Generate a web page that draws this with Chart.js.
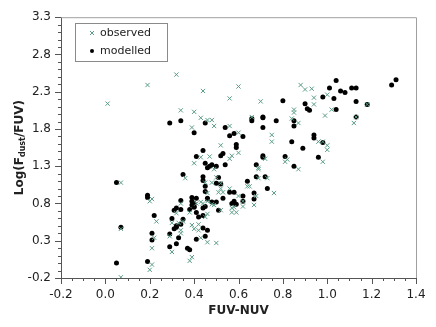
<!DOCTYPE html>
<html>
<head>
<meta charset="utf-8">
<script src="https://cdn.jsdelivr.net/npm/chart.js@4"></script>
<style>
  html, body { margin: 0; padding: 0; background: #fff; }
  #wrap { width: 436px; height: 327px; }
</style>
</head>
<body>
<div id="wrap"><canvas id="chart" width="436" height="327"></canvas></div>
<script>
// axis ticks
const xTicks = [-0.2, 0.0, 0.2, 0.4, 0.6, 0.8, 1.0, 1.2, 1.4];
const yTicks = [-0.2, 0.3, 0.8, 1.3, 1.8, 2.3, 2.8, 3.3];

const seriesNames = ['observed', 'modelled'];

// observed (green crosses)
const obsX = [0.01, 0.07, 0.07, 0.07, 0.19, 0.32, 0.44, 0.60, 0.56, 0.34, 0.40, 0.43, 0.46, 0.48, 0.49, 0.39, 0.56, 0.60,
  0.52, 0.60, 0.57, 0.56, 0.47, 0.43, 0.40, 0.49, 0.50, 0.36, 0.45, 0.48, 0.52, 0.52, 0.53, 0.51, 0.65, 0.46, 0.60, 0.62,
  0.21, 0.20, 0.41, 0.44, 0.43, 0.46, 0.34, 0.48, 0.49, 0.62, 0.57, 0.57, 0.59, 0.32, 0.38, 0.46, 0.45, 0.52, 0.23, 0.42,
  0.39, 0.35, 0.33, 0.30, 0.42, 0.40, 0.34, 0.34, 0.29, 0.22, 0.43, 0.46, 0.50, 0.21, 0.30, 0.39, 0.38, 0.21, 0.20,
  0.75, 0.75, 0.96, 0.98, 1.00, 1.00, 0.72, 0.82, 0.81, 0.98, 0.87, 0.69, 0.69, 0.69, 0.73, 0.64, 0.76, 0.68, 0.67,
  0.88, 0.90, 0.93, 1.00, 0.94, 0.94, 0.70, 0.85, 0.85, 0.84, 0.87, 0.99, 1.02, 1.18, 1.13, 1.12, 0.66, 0.56, 0.58];
const obsY = [2.14, -0.19, 0.46, 1.08, 2.39, 2.53, 2.31, 2.37, 2.21, 2.05, 2.03, 1.95, 1.92, 1.92, 1.84, 1.82, 1.84, 1.75,
  1.58, 1.48, 1.44, 1.40, 1.43, 1.42, 1.34, 1.26, 1.15, 1.14, 1.08, 1.08, 1.07, 1.00, 0.95, 0.95, 1.03, 0.94, 0.90, 0.83,
  0.86, 0.83, 0.80, 0.80, 0.82, 0.83, 0.80, 0.79, 0.78, 0.76, 0.74, 0.68, 0.68, 0.67, 0.68, 0.66, 0.62, 0.71, 0.56, 0.52,
  0.51, 0.56, 0.54, 0.54, 0.44, 0.46, 0.44, 0.40, 0.36, 0.34, 0.34, 0.28, 0.27, 0.20, 0.15, 0.08, 0.03, -0.02, -0.09,
  1.72, 1.63, 1.63, 1.63, 1.58, 1.52, 1.40, 1.39, 1.36, 1.36, 1.26, 1.28, 1.26, 1.14, 1.14, 1.03, 0.94, 0.90, 0.78,
  2.39, 2.33, 2.34, 2.26, 2.22, 2.13, 2.17, 2.06, 2.02, 1.94, 1.88, 1.98, 2.06, 2.13, 1.96, 1.88, 1.96, 1.00, 0.75];

// modelled (black dots)
const modX = [0.05, 0.05, 0.40, 0.56, 0.58, 0.62, 0.59, 0.59, 0.44, 0.53, 0.52, 0.41, 0.45, 0.54, 0.48, 0.47, 0.46, 0.50,
  0.35, 0.44, 0.51, 0.44, 0.64, 0.50, 0.52, 0.45, 0.45, 0.56, 0.58, 0.62, 0.19, 0.19, 0.39, 0.41, 0.46, 0.46, 0.39, 0.40,
  0.39, 0.40, 0.38, 0.40, 0.34, 0.48, 0.50, 0.53, 0.45, 0.44, 0.58, 0.57, 0.59, 0.62, 0.32, 0.31, 0.34, 0.51, 0.41, 0.22,
  0.44, 0.42, 0.30, 0.35, 0.34, 0.32, 0.32, 0.31, 0.07, 0.44, 0.46, 0.21, 0.29, 0.45, 0.33, 0.41, 0.21, 0.32, 0.29, 0.37,
  0.38, 0.19, 0.29, 0.34, 0.45, 0.54, 0.84, 0.94, 0.94, 0.98, 0.89, 0.71, 0.71, 0.81, 0.68, 0.96, 0.85, 0.68, 0.72, 0.73,
  0.67, 0.67, 1.31, 1.29, 1.04, 1.01, 1.11, 1.13, 1.06, 1.08, 0.98, 1.03, 0.80, 0.90, 1.13, 1.18, 0.91, 0.92, 1.04, 0.66,
  0.66, 0.71, 0.71, 0.77, 0.85, 0.85, 1.13, 0.71];
const modY = [1.08, 0.00, 1.75, 1.71, 1.74, 1.70, 1.59, 1.55, 1.51, 1.47, 1.44, 1.43, 1.34, 1.32, 1.32, 1.30, 1.28, 1.30,
  1.19, 1.16, 1.15, 1.11, 1.10, 1.07, 1.06, 1.03, 0.96, 0.95, 0.95, 0.90, 0.91, 0.88, 0.88, 0.87, 0.87, 0.86, 0.83, 0.80,
  0.78, 0.75, 0.72, 0.76, 0.84, 0.82, 0.82, 0.87, 0.76, 0.74, 0.83, 0.80, 0.79, 0.83, 0.74, 0.71, 0.72, 0.71, 0.68, 0.64,
  0.64, 0.62, 0.60, 0.59, 0.52, 0.50, 0.48, 0.46, 0.48, 0.47, 0.44, 0.40, 0.39, 0.36, 0.34, 0.32, 0.31, 0.26, 0.22, 0.20,
  0.18, 0.02, 1.88, 1.91, 1.88, 1.82, 1.63, 1.72, 1.68, 1.62, 1.54, 1.44, 1.42, 1.43, 1.32, 1.42, 1.30, 1.16, 1.16, 1.00,
  0.94, 0.86, 2.46, 2.39, 2.45, 2.35, 2.35, 2.35, 2.31, 2.29, 2.23, 2.21, 2.18, 2.14, 2.17, 2.13, 2.07, 2.05, 2.06, 1.94,
  1.91, 1.96, 1.95, 1.91, 1.91, 1.84, 1.96, 1.82];

const FONT = "'DejaVu Sans', Verdana, sans-serif";
const GREEN = '#5a9c88';
const TEXT = '#222';

const toPoints = (xs, ys) => xs.map((x, i) => ({ x: x, y: ys[i] }));

// frame, minor ticks, axis titles and the boxed legend
const decorations = {
  id: 'decorations',
  afterDraw(chart) {
    const ctx = chart.ctx;
    const a = chart.chartArea;
    const xs = chart.scales.x;
    const ys = chart.scales.y;
    ctx.save();

    // light frame round the plot, darker axes
    ctx.strokeStyle = '#a0a0a0';
    ctx.lineWidth = 1;
    ctx.beginPath();
    ctx.moveTo(a.left, a.top + 0.5);
    ctx.lineTo(a.right + 0.5, a.top + 0.5);
    ctx.lineTo(a.right + 0.5, a.bottom);
    ctx.stroke();

    ctx.strokeStyle = '#555';
    ctx.beginPath();
    // y ticks every 0.1
    for (let i = 0; i <= 35; i++) {
      const v = -0.2 + i * 0.1;
      const py = Math.round(ys.getPixelForValue(v)) + 0.5;
      const len = i % 5 === 0 ? 6 : 3;
      ctx.moveTo(a.left - len, py);
      ctx.lineTo(a.left, py);
    }
    // x ticks every 0.05
    for (let i = 0; i <= 32; i++) {
      const v = -0.2 + i * 0.05;
      const px = Math.round(xs.getPixelForValue(v)) + 0.5;
      const len = i % 4 === 0 ? 6 : 3;
      ctx.moveTo(px, a.bottom);
      ctx.lineTo(px, a.bottom + len);
    }
    ctx.stroke();

    // x title
    ctx.fillStyle = TEXT;
    ctx.font = 'bold 12px ' + FONT;
    ctx.textAlign = 'center';
    ctx.textBaseline = 'middle';
    ctx.fillText('FUV-NUV', (a.left + a.right) / 2, 311);

    // y title with subscript
    const parts = [
      { t: 'Log(F', f: 'bold 12px ' + FONT, dy: 0 },
      { t: 'dust', f: 'bold 8px ' + FONT, dy: 3 },
      { t: '/FUV)', f: 'bold 12px ' + FONT, dy: 0 }
    ];
    let total = 0;
    parts.forEach(p => { ctx.font = p.f; p.w = ctx.measureText(p.t).width; total += p.w; });
    ctx.translate(20, (a.top + a.bottom) / 2);
    ctx.rotate(-Math.PI / 2);
    ctx.textAlign = 'left';
    let cx = -total / 2;
    parts.forEach(p => {
      ctx.font = p.f;
      ctx.fillText(p.t, cx, p.dy);
      cx += p.w;
    });
    ctx.setTransform(1, 0, 0, 1, 0, 0);

    // legend box
    ctx.fillStyle = '#fff';
    ctx.fillRect(75, 23, 92, 38);
    ctx.strokeStyle = '#8a8a8a';
    ctx.strokeRect(75.5, 23.5, 92, 38);
    const rows = [33, 51];
    chart.data.datasets.forEach((ds, i) => {
      const y = rows[i];
      const x = 92;
      if (ds.pointStyle === 'crossRot') {
        ctx.strokeStyle = ds.borderColor;
        ctx.lineWidth = ds.borderWidth;
        ctx.beginPath();
        ctx.moveTo(x - 2, y - 2); ctx.lineTo(x + 2, y + 2);
        ctx.moveTo(x - 2, y + 2); ctx.lineTo(x + 2, y - 2);
        ctx.stroke();
      } else {
        ctx.fillStyle = ds.backgroundColor;
        ctx.beginPath();
        ctx.arc(x, y, 2, 0, Math.PI * 2);
        ctx.fill();
      }
      ctx.fillStyle = TEXT;
      ctx.font = '11px ' + FONT;
      ctx.textAlign = 'left';
      ctx.textBaseline = 'middle';
      ctx.fillText(ds.label, 100, y);
    });
    ctx.restore();
  }
};

new Chart(document.getElementById('chart'), {
  type: 'scatter',
  data: {
    datasets: [
      {
        label: seriesNames[0],
        data: toPoints(obsX, obsY),
        pointStyle: 'crossRot',
        pointRadius: 3,
        borderColor: GREEN,
        backgroundColor: GREEN,
        borderWidth: 1
      },
      {
        label: seriesNames[1],
        data: toPoints(modX, modY),
        pointStyle: 'circle',
        pointRadius: 2.5,
        borderWidth: 0,
        borderColor: '#000',
        backgroundColor: '#000'
      }
    ]
  },
  options: {
    responsive: false,
    animation: false,
    layout: { padding: { left: 0, top: 16, right: 20, bottom: 0 } },
    plugins: { legend: { display: false }, tooltip: { enabled: false } },
    scales: {
      x: {
        type: 'linear',
        min: -0.2,
        max: 1.4,
        afterBuildTicks: s => { s.ticks = xTicks.map(v => ({ value: v })); },
        afterFit: s => { s.height = 49; },
        grid: { display: false, drawTicks: false },
        border: { display: true, color: '#555', width: 1 },
        ticks: {
          autoSkip: false,
          maxRotation: 0,
          padding: 10,
          color: TEXT,
          font: { family: FONT, size: 12 },
          callback: v => v.toFixed(1)
        }
      },
      y: {
        type: 'linear',
        min: -0.2,
        max: 3.3,
        afterBuildTicks: s => { s.ticks = yTicks.map(v => ({ value: v })); },
        afterFit: s => { s.width = 61; },
        grid: { display: false, drawTicks: false },
        border: { display: true, color: '#555', width: 1 },
        ticks: {
          autoSkip: false,
          padding: 10,
          color: TEXT,
          font: { family: FONT, size: 12 },
          callback: v => v.toFixed(1)
        }
      }
    }
  },
  plugins: [decorations]
});
</script>
</body>
</html>
